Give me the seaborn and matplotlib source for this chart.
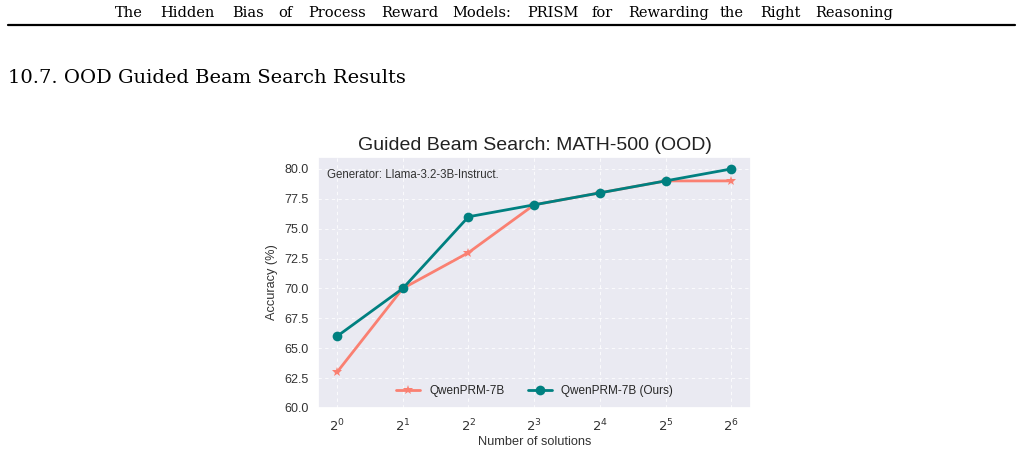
import numpy as np
import pandas as pd
import seaborn as sns
import matplotlib.pyplot as plt
from matplotlib.lines import Line2D

# data
exponents = [0, 1, 2, 3, 4, 5, 6]
tick_labels = [f"$2^{{{k}}}$" for k in exponents]
qwen_prm = [63, 70, 73, 77, 78, 79, 79]
qwen_prm_ours = [66, 70, 76, 77, 78, 79, 80]

header_words = ["The", "Hidden", "Bias", "of", "Process", "Reward", "Models:",
                "PRISM", "for", "Rewarding", "the", "Right", "Reasoning"]
header_x = [115, 160, 232, 278, 308, 381, 452, 527, 591, 628, 720, 760, 815]

sns.set_theme(style="darkgrid")
plt.rcParams['font.family'] = ['Liberation Sans', 'DejaVu Sans']

fig = plt.figure(figsize=(10.22, 4.5), dpi=100)

# page header and section heading
for word, xpix in zip(header_words, header_x):
    fig.text(xpix / 1022, 1 - 13 / 450, word, ha="left", va="center",
             fontsize=10.5, family="DejaVu Serif", color="black")
fig.add_artist(Line2D([8 / 1022, 1015 / 1022], [1 - 24.5 / 450, 1 - 24.5 / 450],
                      color="black", linewidth=1.6))
fig.text(8 / 1022, 1 - 78 / 450, "10.7. OOD Guided Beam Search Results",
         ha="left", va="center", fontsize=14, family="DejaVu Serif", color="black")

ax = fig.add_axes([318 / 1022, 1 - 408 / 450, 433 / 1022, 251 / 450])

df = pd.DataFrame({"x": exponents, "base": qwen_prm, "ours": qwen_prm_ours})
sns.lineplot(data=df, x="x", y="base", ax=ax, color="#FA8072", marker="*",
             markersize=7, markeredgewidth=0, linewidth=2, label="QwenPRM-7B")
sns.lineplot(data=df, x="x", y="ours", ax=ax, color="#008080", marker="o",
             markersize=7, markeredgewidth=0, linewidth=2, label="QwenPRM-7B (Ours)")

ax.set_xlim(-0.29, 6.3)
ax.set_ylim(60, 81)
ax.set_xticks(exponents)
ax.set_xticklabels(tick_labels)
ax.set_yticks(np.arange(60, 80.1, 2.5))
ax.tick_params(labelsize=9, colors="#333333")
ax.tick_params(axis="x", pad=1, labelsize=9.5)
ax.tick_params(axis="y", pad=1)
ax.grid(True, linestyle=(0, (3, 3)), linewidth=0.8, color="white", alpha=0.8)

ax.set_xlabel("Number of solutions", fontsize=9.2, color="#333333", labelpad=1)
ax.set_ylabel("Accuracy (%)", fontsize=9.2, color="#333333", labelpad=4)
ax.set_title("Guided Beam Search: MATH-500 (OOD)", fontsize=14, color="#222222", pad=5)

ax.text(0.02, 0.93, "Generator: Llama-3.2-3B-Instruct.", transform=ax.transAxes,
        fontsize=8.3, color="#333333", ha="left", va="center")

ax.legend(loc="lower center", ncol=2, frameon=False, fontsize=8.5,
          bbox_to_anchor=(0.5, 0.0), columnspacing=2.0)

fig.savefig("out.png", dpi=100, facecolor="white")
